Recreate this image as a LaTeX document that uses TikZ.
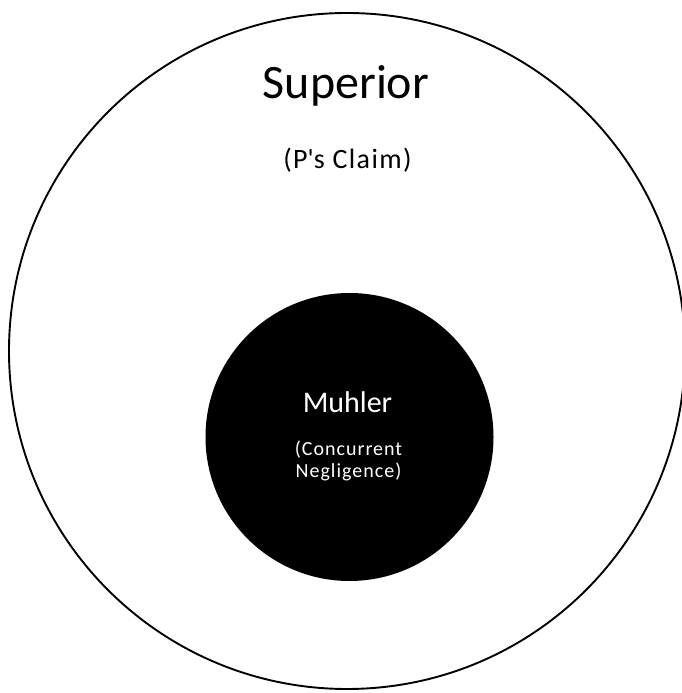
\documentclass[tikz,border=0pt]{standalone}
\usepackage{fontspec}
\setmainfont{Carlito}
\newfontfamily\spacedfont[LetterSpace=5]{Carlito}
\begin{document}
\begin{tikzpicture}[x=1pt,y=1pt,
    outer/.style={draw=black,line width=1.9pt},
    inner/.style={fill=black},
    bigtext/.style={font=\fontsize{48}{56}\selectfont,inner sep=0pt},
    smalltext/.style={font=\spacedfont\fontsize{28}{32}\selectfont,inner sep=0pt},
    whitetext/.style={text=white,inner sep=0pt,align=center}]
  \useasboundingbox (0,0) rectangle (682,693);
  \draw[outer] (347,342) circle (338);
  \fill[inner] (349.5,256) circle (144);
  \node[bigtext,anchor=base] (superior) at (346,594) {Superior};
  \node[smalltext,anchor=base] (claim) at (347.5,524) {(P\textquotesingle s Claim)};
  \node[whitetext,anchor=base,font=\fontsize{30}{36}\selectfont] (muhler) at (347.5,280) {Muhler};
  \node[whitetext,anchor=base,font=\spacedfont\fontsize{20}{22}\selectfont] (negligence) at (348.5,215) {(Concurrent\\Negligence)};
\end{tikzpicture}
\end{document}
